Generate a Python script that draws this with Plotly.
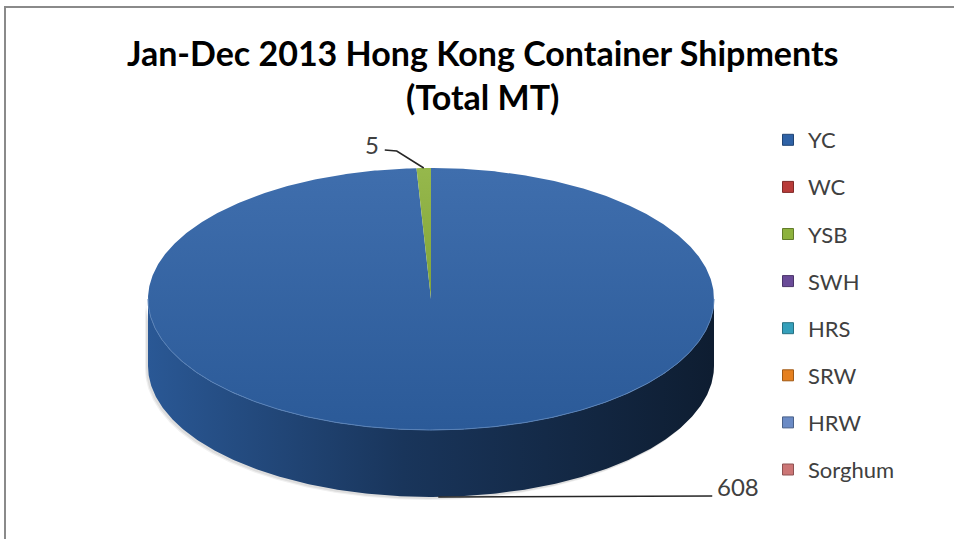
import numpy as np
import plotly.graph_objects as go

# ---------------- data ----------------
categories = ["YC", "WC", "YSB", "SWH", "HRS", "SRW", "HRW", "Sorghum"]
values = [608, 0, 5, 0, 0, 0, 0, 0]
colors = ["#2f62a6", "#b83b39", "#8db23d", "#6a4b98", "#35a0bb", "#e5801f", "#6b8bc5", "#cc7676"]
title_text = "Jan-Dec 2013 Hong Kong Container Shipments<br>(Total MT)"

# ---------------- layout / style constants ----------------
W, H = 954, 539
CX, CY, RX, RY, DEPTH = 431, 299, 283, 131, 67      # 3-D pie geometry (pixels)
FONT = "Lato, Carlito, 'Open Sans', sans-serif"
# leader-line layout per labelled slice: list of (dx, dy) offsets from the anchor point
leader_layout = {
    "YSB": dict(path=[(-27, -17), (-39, -18)], text_dx=-4, text_dy=-6, xanchor="right"),
    "YC": dict(path=[(274, -1)], text_dx=3, text_dy=-9, xanchor="left"),
}


def shade(hex_color, f):
    h = hex_color.lstrip("#")
    r, g, b = (int(h[i:i + 2], 16) for i in (0, 2, 4))
    if f <= 1:
        r, g, b = (int(c * f) for c in (r, g, b))
    else:
        t = f - 1
        r, g, b = (int(c + (255 - c) * t) for c in (r, g, b))
    return f"rgb({r},{g},{b})"


def pt(theta_deg, dy=0.0):
    t = np.radians(theta_deg)
    return CX + RX * np.sin(t), CY - RY * np.cos(t) + dy


def arc(a, b, dy=0.0):
    n = max(3, int(abs(b - a) * 2))
    th = np.linspace(a, b, n)
    xs, ys = pt(th, dy)
    return list(xs), list(ys)


total = float(sum(values))
starts, ends = [], []
acc = 0.0
for v in values:
    starts.append(acc / total * 360.0)
    acc += v
    ends.append(acc / total * 360.0)

fig = go.Figure()

# soft shadow under the front wall
sx1, sy1 = arc(90, 270)
sx2, sy2 = arc(270, 90, DEPTH)
for off, op in ((3, 0.06), (2, 0.08)):
    fig.add_trace(go.Scatter(
        x=[x - off for x in sx1 + sx2], y=[y + off for y in sy1 + sy2], mode="lines",
        fill="toself", fillcolor=f"rgba(0,0,0,{op})", line=dict(width=0),
        showlegend=False, hoverinfo="skip"))

# front walls (side) of each slice
for cat, v, c, t0, t1 in zip(categories, values, colors, starts, ends):
    if v <= 0:
        continue
    a, b = max(t0, 90.0), min(t1, 270.0)
    if b <= a:
        continue
    x1, y1 = arc(a, b)
    x2, y2 = arc(b, a, DEPTH)
    fig.add_trace(go.Scatter(
        x=x1 + x2 + [x1[0]], y=y1 + y2 + [y1[0]], mode="lines", fill="toself",
        line=dict(width=0),
        fillgradient=dict(type="horizontal",
                          colorscale=[[0, shade(c, 0.9)], [0.45, shade(c, 0.55)], [1, shade(c, 0.3)]]),
        showlegend=False, name=cat, hoverinfo="skip"))

# top faces of each slice
for cat, v, c, t0, t1 in zip(categories, values, colors, starts, ends):
    if v <= 0:
        continue
    xs, ys = arc(t0, t1)
    fig.add_trace(go.Scatter(
        x=[CX] + xs + [CX], y=[CY] + ys + [CY], mode="lines", fill="toself",
        line=dict(width=0),
        fillgradient=dict(type="vertical",
                          colorscale=[[0, shade(c, 0.92)], [1, shade(c, 1.08)]]),
        showlegend=False, name=cat,
        hovertemplate=f"{cat}: {v}<extra></extra>"))
    # light rim on the front edge of the top face
    a, b = max(t0, 90.0), min(t1, 270.0)
    if b > a:
        rx_, ry_ = arc(a, b)
        fig.add_trace(go.Scatter(x=rx_, y=ry_, mode="lines",
                                 line=dict(color=shade(c, 1.2), width=1),
                                 showlegend=False, hoverinfo="skip"))

# data labels with leader lines
for cat, v, t0, t1 in zip(categories, values, starts, ends):
    if v <= 0 or cat not in leader_layout:
        continue
    m = (t0 + t1) / 2.0
    front = np.cos(np.radians(m)) < 0
    ax, ay = pt(m, DEPTH if front else 0.0)
    ax, ay = float(ax), float(ay)
    lay = leader_layout[cat]
    lx = [ax] + [ax + dx for dx, dy in lay["path"]]
    ly = [ay] + [ay + dy for dx, dy in lay["path"]]
    fig.add_trace(go.Scatter(x=lx, y=ly, mode="lines", line=dict(color="#262626", width=1.6),
                             showlegend=False, hoverinfo="skip"))
    fig.add_annotation(x=lx[-1] + lay["text_dx"], y=ly[-1] + lay["text_dy"], text=str(v),
                       showarrow=False, xanchor=lay["xanchor"], yanchor="middle",
                       font=dict(family=FONT, size=24, color="#404040"))

# legend entries
for cat, c in zip(categories, colors):
    fig.add_trace(go.Scatter(
        x=[None], y=[None], mode="markers", name=cat, legendgroup=cat,
        marker=dict(symbol="square", size=11, color=c, line=dict(color=shade(c, 0.7), width=1))))

fig.add_shape(type="rect", xref="x", yref="y", x0=5, y0=7, x1=W + 10, y1=H + 10,
              line=dict(color="#8a8a8a", width=2), fillcolor="rgba(0,0,0,0)", layer="below")

fig.update_layout(
    width=W, height=H,
    margin=dict(l=0, r=0, t=0, b=0),
    paper_bgcolor="white", plot_bgcolor="white",
    xaxis=dict(range=[0, W], visible=False, fixedrange=True),
    yaxis=dict(range=[H, 0], visible=False, fixedrange=True),
    title=dict(text=title_text, x=0.506, xanchor="center", xref="paper",
               y=1 - 66 / H, yanchor="top", yref="container",
               font=dict(family=FONT, size=34, color="#000000", weight="bold")),
    legend=dict(x=768 / W, xanchor="left", y=1 - 119 / H, yanchor="top",
                font=dict(family=FONT, size=22, color="#404040"),
                tracegroupgap=15.5, bgcolor="rgba(0,0,0,0)"),
    showlegend=True,
)

fig.write_html("out.html")
